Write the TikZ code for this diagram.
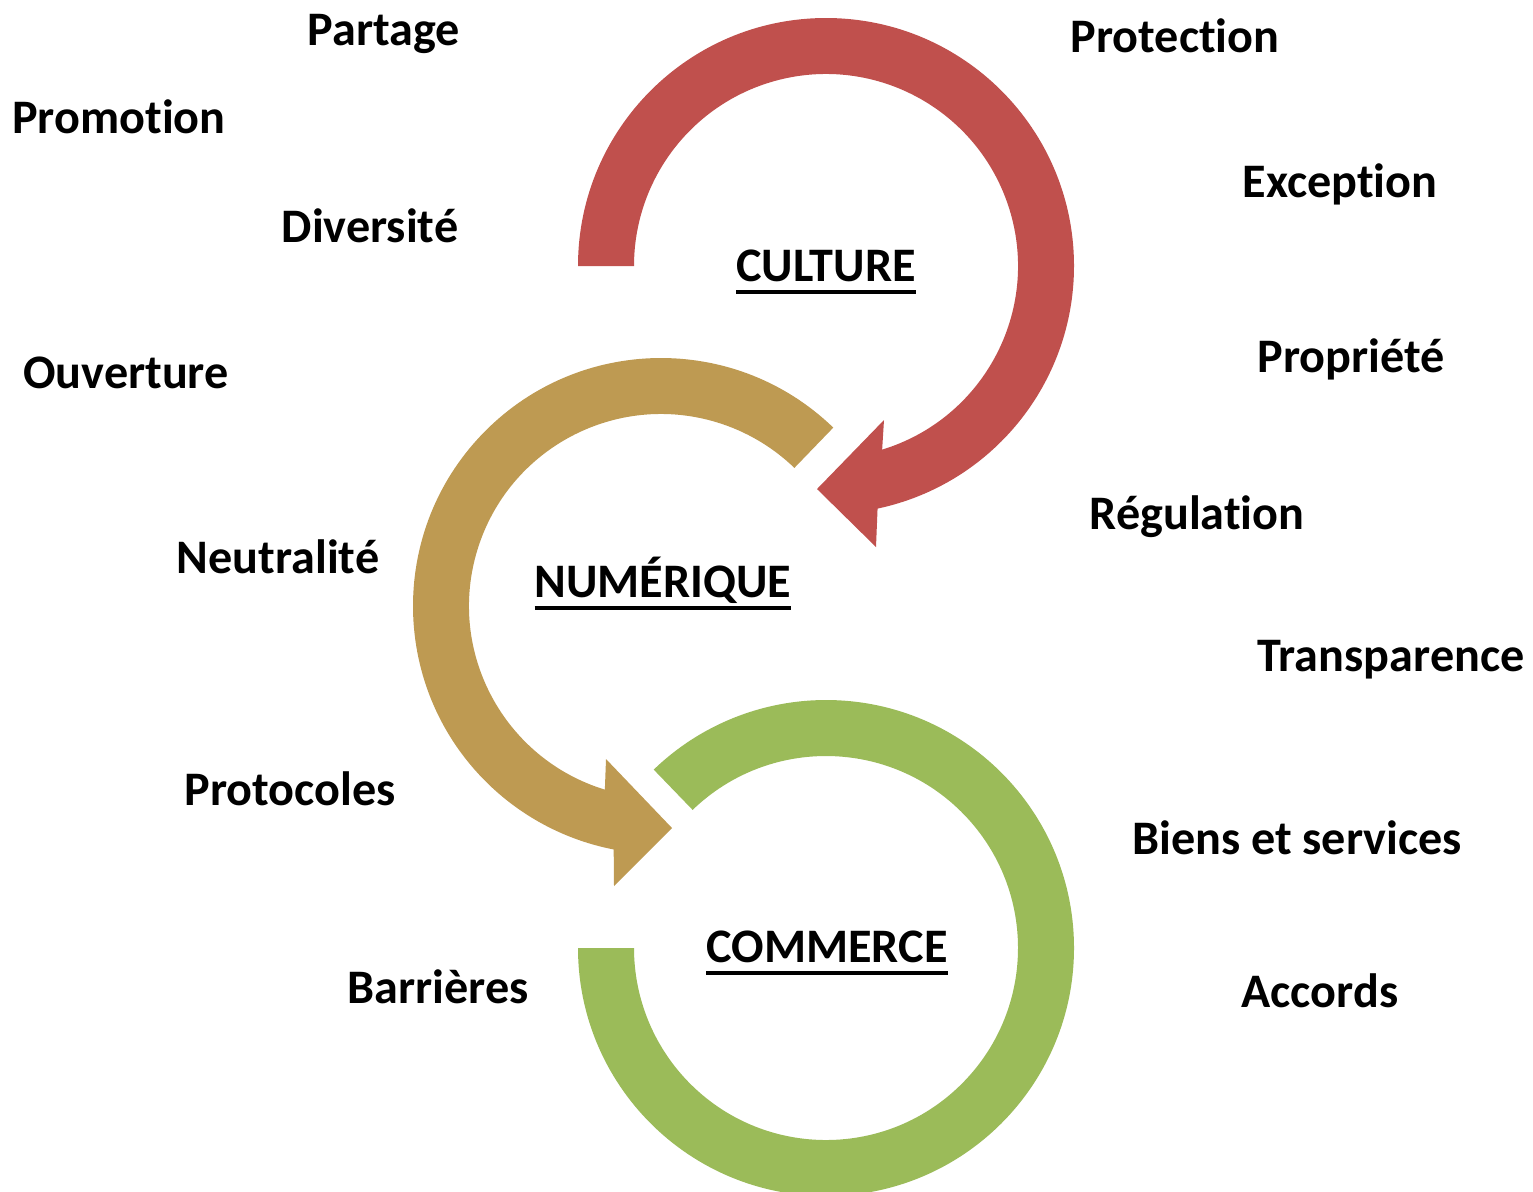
\documentclass[tikz,border=0pt]{standalone}
\usepackage{fontspec}
\setmainfont{Carlito}[Ligatures=NoCommon]
\usepackage{tikz}
\tikzset{>=latex}
\definecolor{culture}{HTML}{C0504D}
\definecolor{numerique}{HTML}{BE9A52}
\definecolor{commerce}{HTML}{9BBB59}
\newcommand{\ringtitle}[1]{\setbox0=\hbox{#1}\rlap{\rule[-3.6pt]{\wd0}{1.1pt}}\box0}
\tikzset{
  word/.style={anchor=base, inner sep=0pt, font=\fontsize{13.7}{16}\selectfont\bfseries},
}

\begin{document}
\begin{tikzpicture}
            \useasboundingbox (0,0) rectangle (15.33,-11.91);

            % rings
            \fill[culture, shift={(8.26,-2.66)}] (180:2.48) arc[start angle=180, end angle=-78, radius=2.48] -- (0.50,-2.81) -- (-0.09,-2.23) -- (0.58,-1.54) -- (-73:1.92) arc[start angle=-73, end angle=180, radius=1.92] -- cycle;
            \fill[numerique, shift={(6.61,-6.06)}] (46:2.48) arc[start angle=46, end angle=259, radius=2.48] -- (-0.47,-2.80) -- (0.11,-2.22) -- (-0.55,-1.53) -- (253:1.92) arc[start angle=253, end angle=46, radius=1.92] -- cycle;
            \fill[commerce, shift={(8.26,-9.48)}] (180:2.48) arc[start angle=180, end angle=494, radius=2.48] -- (494:1.92) arc[start angle=494, end angle=180, radius=1.92] -- cycle;

            \node [word] (culture) at (8.26, -2.81) {\ringtitle{CULTURE}};
            \node [word] (numerique) at (6.63, -5.97) {\ringtitle{NUMÉRIQUE}};
            \node [word] (commerce) at (8.27, -9.62) {\ringtitle{COMMERCE}};

            \node [word] (partage) at (3.84, -0.45) {Partage};
            \node [word] (promotion) at (1.19, -1.33) {Promotion};
            \node [word] (diversite) at (3.70, -2.42) {Diversité};
            \node [word] (ouverture) at (1.26, -3.88) {Ouverture};
            \node [word] (neutralite) at (2.78, -5.73) {Neutralité};
            \node [word] (protocoles) at (2.90, -8.05) {Protocoles};
            \node [word] (barrieres) at (4.38, -10.03) {Barrières};

            \node [word] (protection) at (11.75, -0.52) {Protection};
            \node [word] (exception) at (13.40, -1.97) {Exception};
            \node [word] (propriete) at (13.51, -3.72) {Propriété};
            \node [word] (regulation) at (11.97, -5.29) {Régulation};
            \node [word] (transparence) at (13.91, -6.71) {Transparence};
            \node [word] (biens) at (12.97, -8.54) {Biens et services};
            \node [word] (accords) at (13.20, -10.07) {Accords};
        \end{tikzpicture}
\end{document}
